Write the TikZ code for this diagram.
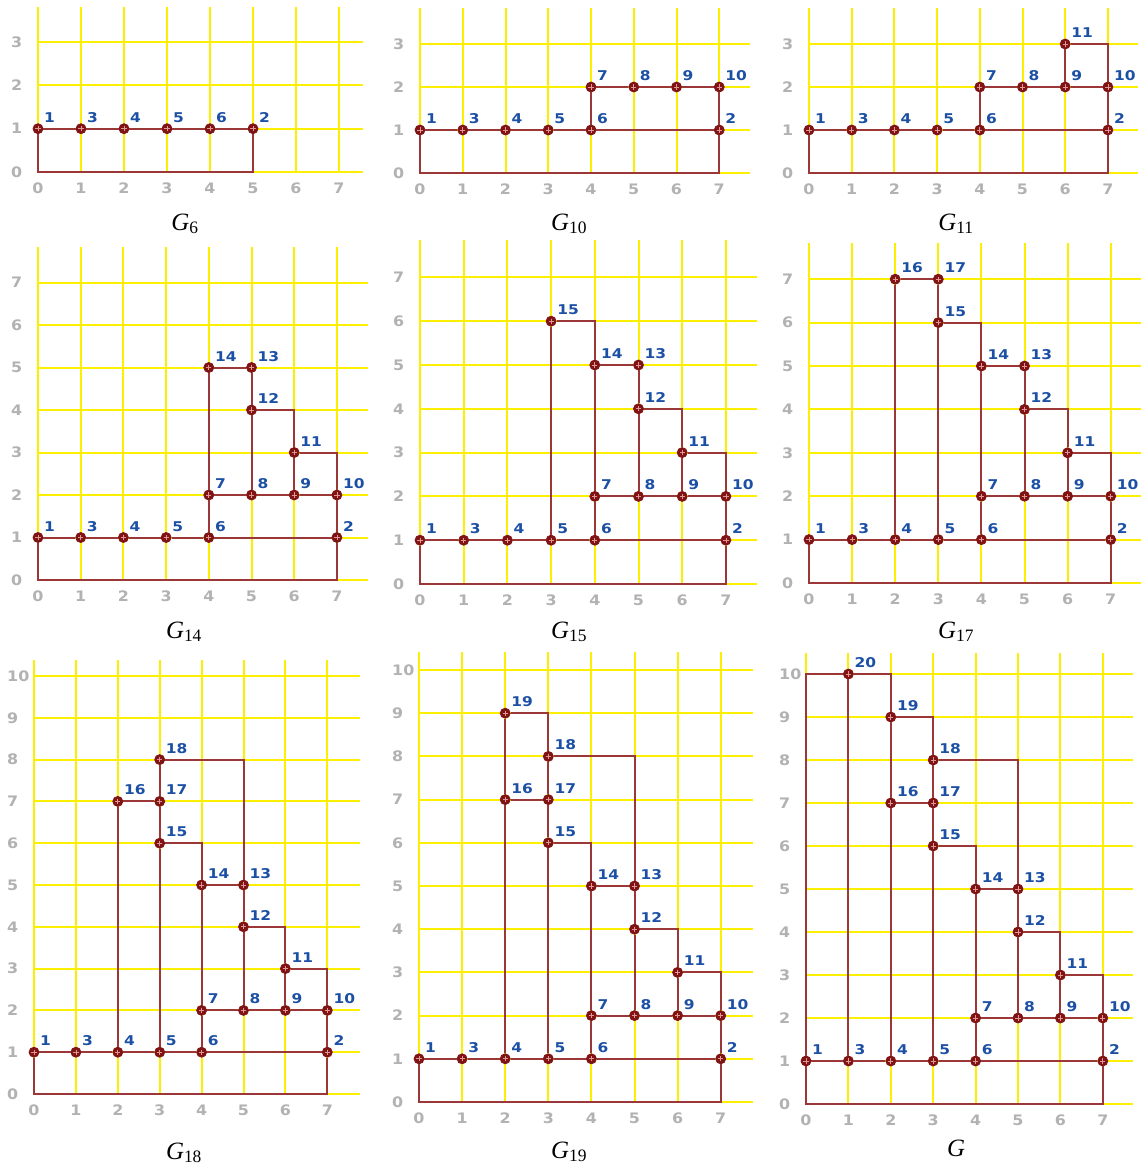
\documentclass[tikz,border=0pt]{standalone}
\usepackage{fontspec}
\setmainfont{Liberation Serif}
\newfontfamily\lblfont{DejaVu Sans}[FakeStretch=1.15]
\newfontfamily\axfont{DejaVu Sans}[FakeStretch=1.1]
\definecolor{gridyel}{RGB}{252,240,0}
\definecolor{edgered}{RGB}{155,55,55}
\definecolor{vdark}{RGB}{128,20,20}
\definecolor{vlight}{RGB}{225,150,150}
\definecolor{lblblue}{RGB}{28,80,165}
\definecolor{axgray}{RGB}{178,178,178}
\tikzset{
  gridline/.style={draw=gridyel, line width=2bp},
  conn/.style={draw=edgered, line width=2bp, line join=miter},
  vtx/.style={circle, inner sep=0pt, minimum size=10bp, fill=vdark, draw=vdark, line width=0.8bp,
    path picture={\draw[vlight, line width=0.8bp]
      ([yshift=2.6bp]path picture bounding box.center) -- ([yshift=-2.6bp]path picture bounding box.center)
      ([xshift=-2.6bp]path picture bounding box.center) -- ([xshift=2.6bp]path picture bounding box.center);}},
  vlab/.style={anchor=base west, inner sep=0pt, xshift=6bp, yshift=6.5bp, text=lblblue,
    font=\lblfont\bfseries\fontsize{13.5}{13.5}\selectfont},
  xlab/.style={anchor=center, inner sep=0pt, yshift=-16bp, text=axgray,
    font=\axfont\bfseries\fontsize{14.5}{14.5}\selectfont},
  ylab/.style={anchor=west, inner sep=0pt, xshift=-27bp, text=axgray,
    font=\axfont\bfseries\fontsize{14.5}{14.5}\selectfont},
  captext/.style={anchor=base, inner sep=0pt, font=\fontsize{25}{25}\selectfont},
}
% grid and axis numbers: #1 prefix, #2 rows, #3 top of verticals, #4 right end of horizontals
\newcommand\gridaxes[4]{%
  \foreach \i in {0,...,7} \draw[gridline] (\i,0) -- (\i,#3);
  \foreach \j in {0,...,#2} \draw[gridline] (0,\j) -- (#4,\j);
  \foreach \i in {0,...,7} \node[xlab] (#1x\i) at (\i,0) {\i};
  \foreach \j in {0,...,#2} \node[ylab] (#1y\j) at (0,\j) {\j};
}
\newcommand\mkv[4]{\node[vtx] (#1v#2) at (#3,#4) {}; \node[vlab] (#1l#2) at (#1v#2.center) {#2};}
\newcommand\vertsBase[2]{\mkv{#1}{1}{0}{1}\mkv{#1}{3}{1}{1}\mkv{#1}{4}{2}{1}\mkv{#1}{5}{3}{1}\mkv{#1}{6}{4}{1}\mkv{#1}{2}{#2}{1}}
\newcommand\vertsTen[1]{\mkv{#1}{7}{4}{2}\mkv{#1}{8}{5}{2}\mkv{#1}{9}{6}{2}\mkv{#1}{10}{7}{2}}
\newcommand\vertsEleven[1]{\mkv{#1}{11}{6}{3}}
\newcommand\vertsFourteen[1]{\mkv{#1}{12}{5}{4}\mkv{#1}{13}{5}{5}\mkv{#1}{14}{4}{5}}
\newcommand\vertsFifteen[1]{\mkv{#1}{15}{3}{6}}
\newcommand\vertsSeventeen[1]{\mkv{#1}{16}{2}{7}\mkv{#1}{17}{3}{7}}
\newcommand\vertsEighteen[1]{\mkv{#1}{18}{3}{8}}
\newcommand\vertsNineteen[1]{\mkv{#1}{19}{2}{9}}
\newcommand\vertsTwenty[1]{\mkv{#1}{20}{1}{10}}
\newcommand\cornersAll[1]{%
  \coordinate (#1c00) at (0,0); \coordinate (#1c70) at (7,0); \coordinate (#1c73) at (7,3);
  \coordinate (#1c64) at (6,4); \coordinate (#1c46) at (4,6); \coordinate (#1c58) at (5,8);
  \coordinate (#1c39) at (3,9); \coordinate (#1c210) at (2,10); \coordinate (#1c010) at (0,10);}
\newcommand\edgesBase[1]{%
  \draw[conn] (#1v1) -- (#1v3) -- (#1v4) -- (#1v5) -- (#1v6) -- (#1v2);
  \draw[conn] (#1v2) -- (#1c70) -- (#1c00) -- (#1v1);}
\newcommand\edgesTen[1]{\draw[conn] (#1v6) -- (#1v7) -- (#1v8) -- (#1v9) -- (#1v10) -- (#1v2);}
\newcommand\edgesEleven[1]{\draw[conn] (#1v9) -- (#1v11) -- (#1c73) -- (#1v10);}
\newcommand\edgesFourteen[1]{\draw[conn] (#1v8) -- (#1v12) -- (#1c64) -- (#1v11);
  \draw[conn] (#1v12) -- (#1v13) -- (#1v14) -- (#1v7);}
\newcommand\edgesFifteen[1]{\draw[conn] (#1v5) -- (#1v15) -- (#1c46) -- (#1v14);}
\newcommand\edgesSeventeen[1]{\draw[conn] (#1v4) -- (#1v16) -- (#1v17) -- (#1v15);}
\newcommand\edgesEighteen[1]{\draw[conn] (#1v17) -- (#1v18) -- (#1c58) -- (#1v13);}
\newcommand\edgesNineteen[1]{\draw[conn] (#1v16) -- (#1v19) -- (#1c39) -- (#1v18);}
\newcommand\edgesTwenty[1]{\draw[conn] (#1v3) -- (#1v20) -- (#1c210) -- (#1v19);
  \draw[conn] (#1v1) -- (#1c010) -- (#1v20);}
\begin{document}
\begin{tikzpicture}[x=1bp, y=-1bp]
\useasboundingbox (0,0) rectangle (1142,1169);
\fill[white] (0,0) rectangle (1142,1169);

% ---------- G6 ----------
\begin{scope}[shift={(38,172)}, x=43bp, y=43.3bp]
  \gridaxes{a}{3}{3.81}{7.56}
  \coordinate (ac00) at (0,0); \coordinate (ac50) at (5,0);
  \vertsBase{a}{5}
  \draw[conn] (av1) -- (av3) -- (av4) -- (av5) -- (av6) -- (av2);
  \draw[conn] (av2) -- (ac50) -- (ac00) -- (av1);
\end{scope}
\node[captext] (capa) at (185,230) {\textit{G}\textsubscript{6}};

% ---------- G10 ----------
\begin{scope}[shift={(420,173)}, x=42.75bp, y=43bp]
  \gridaxes{b}{3}{3.84}{7.72}
  \cornersAll{b}
  \vertsBase{b}{7}\vertsTen{b}
  \edgesBase{b}\edgesTen{b}
\end{scope}
\node[captext] (capb) at (569,230) {\textit{G}\textsubscript{10}};

% ---------- G11 ----------
\begin{scope}[shift={(809,173)}, x=42.7bp, y=43bp]
  \gridaxes{c}{3}{3.84}{7.7}
  \cornersAll{c}
  \vertsBase{c}{7}\vertsTen{c}\vertsEleven{c}
  \edgesBase{c}\edgesTen{c}\edgesEleven{c}
\end{scope}
\node[captext] (capc) at (956,230) {\textit{G}\textsubscript{11}};

% ---------- G14 ----------
\begin{scope}[shift={(38,580)}, x=42.7bp, y=42.5bp]
  \gridaxes{d}{7}{7.84}{7.73}
  \cornersAll{d}
  \vertsBase{d}{7}\vertsTen{d}\vertsEleven{d}\vertsFourteen{d}
  \edgesBase{d}\edgesTen{d}\edgesEleven{d}\edgesFourteen{d}
\end{scope}
\node[captext] (capd) at (184,638) {\textit{G}\textsubscript{14}};

% ---------- G15 ----------
\begin{scope}[shift={(420,584)}, x=43.7bp, y=43.8bp]
  \gridaxes{e}{7}{7.85}{7.71}
  \cornersAll{e}
  \vertsBase{e}{7}\vertsTen{e}\vertsEleven{e}\vertsFourteen{e}\vertsFifteen{e}
  \edgesBase{e}\edgesTen{e}\edgesEleven{e}\edgesFourteen{e}\edgesFifteen{e}
\end{scope}
\node[captext] (cape) at (569,638) {\textit{G}\textsubscript{15}};

% ---------- G17 ----------
\begin{scope}[shift={(809,583)}, x=43.1bp, y=43.4bp]
  \gridaxes{f}{7}{7.83}{7.7}
  \cornersAll{f}
  \vertsBase{f}{7}\vertsTen{f}\vertsEleven{f}\vertsFourteen{f}\vertsFifteen{f}\vertsSeventeen{f}
  \edgesBase{f}\edgesTen{f}\edgesEleven{f}\edgesFourteen{f}\edgesFifteen{f}\edgesSeventeen{f}
\end{scope}
\node[captext] (capf) at (956,638) {\textit{G}\textsubscript{17}};

% ---------- G18 ----------
\begin{scope}[shift={(34,1094)}, x=41.9bp, y=41.8bp]
  \gridaxes{g}{10}{10.38}{7.78}
  \cornersAll{g}
  \vertsBase{g}{7}\vertsTen{g}\vertsEleven{g}\vertsFourteen{g}\vertsFifteen{g}\vertsSeventeen{g}\vertsEighteen{g}
  \edgesBase{g}\edgesTen{g}\edgesEleven{g}\edgesFourteen{g}\edgesFifteen{g}\edgesSeventeen{g}\edgesEighteen{g}
\end{scope}
\node[captext] (capg) at (184,1159) {\textit{G}\textsubscript{18}};

% ---------- G19 ----------
\begin{scope}[shift={(419,1102)}, x=43.1bp, y=43.2bp]
  \gridaxes{h}{10}{10.42}{7.75}
  \cornersAll{h}
  \vertsBase{h}{7}\vertsTen{h}\vertsEleven{h}\vertsFourteen{h}\vertsFifteen{h}\vertsSeventeen{h}\vertsEighteen{h}\vertsNineteen{h}
  \edgesBase{h}\edgesTen{h}\edgesEleven{h}\edgesFourteen{h}\edgesFifteen{h}\edgesSeventeen{h}\edgesEighteen{h}\edgesNineteen{h}
\end{scope}
\node[captext] (caph) at (569,1158) {\textit{G}\textsubscript{19}};

% ---------- G ----------
\begin{scope}[shift={(806,1104)}, x=42.4bp, y=43bp]
  \gridaxes{k}{10}{10.5}{7.71}
  \cornersAll{k}
  \vertsBase{k}{7}\vertsTen{k}\vertsEleven{k}\vertsFourteen{k}\vertsFifteen{k}\vertsSeventeen{k}\vertsEighteen{k}\vertsNineteen{k}\vertsTwenty{k}
  \edgesBase{k}\edgesTen{k}\edgesEleven{k}\edgesFourteen{k}\edgesFifteen{k}\edgesSeventeen{k}\edgesEighteen{k}\edgesNineteen{k}\edgesTwenty{k}
\end{scope}
\node[captext] (capk) at (956,1156) {\textit{G}};
\end{tikzpicture}
\end{document}
